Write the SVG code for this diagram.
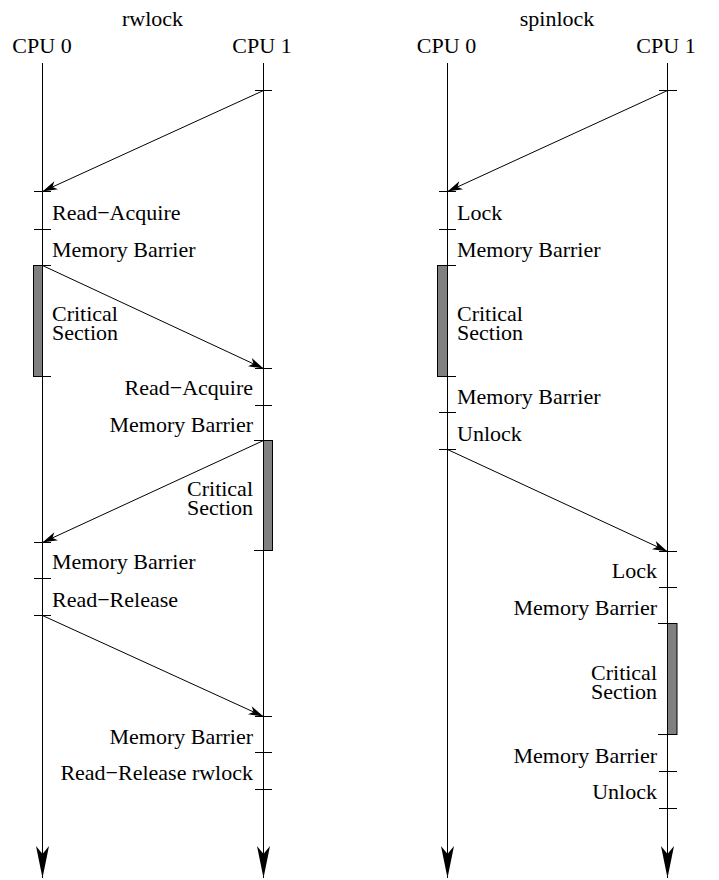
<svg xmlns="http://www.w3.org/2000/svg" width="719" height="880" viewBox="0 0 719 880" font-family="'Liberation Serif', 'Times New Roman', Tinos, 'DejaVu Serif', serif">
  <style>
    text { font-family: 'Liberation Serif', 'Times New Roman', Tinos, 'DejaVu Serif', serif; font-size: 22px; fill: #000; }
    .mid { text-anchor: middle; }
    .end { text-anchor: end; }
    .life { stroke: #000; stroke-width: 1; fill: none; }
    .tick { stroke: #000; stroke-width: 1; fill: none; }
    .cs { fill: #808080; stroke: #000; stroke-width: 1; }
    .msg { stroke: #000; stroke-width: 1; fill: none; marker-end: url(#msgHead); }
  </style>
  <defs>
    <marker id="msgHead" markerUnits="userSpaceOnUse" markerWidth="20" markerHeight="12" viewBox="-16 -6 18 12" refX="0" refY="0" orient="auto">
      <path d="M0,0 L-15,-4.5 L-11,0 L-15,4.5 Z" fill="#000"/>
    </marker>
    <marker id="timeHead" markerUnits="userSpaceOnUse" markerWidth="36" markerHeight="16" viewBox="-34 -8 36 16" refX="0" refY="0" orient="auto">
      <path d="M0,0 L-32,-6.5 L-24,0 L-32,6.5 Z" fill="#000"/>
    </marker>
  </defs>

  <!-- titles -->
  <g id="titles">
    <text class="mid" x="152.5" y="26">rwlock</text>
    <text class="mid" x="557" y="26">spinlock</text>
  </g>

  <!-- rwlock: CPU 0 timeline -->
  <g id="rw-cpu0">
    <text class="mid" x="42" y="53">CPU 0</text>
    <line class="life" x1="42.5" y1="63" x2="42.5" y2="878" marker-end="url(#timeHead)"/>
    <path class="tick" d="M34,191.5H51 M34,229.5H51 M34,542.5H51 M34,578.5H51 M34,615.5H51"/>
    <rect class="cs" x="33.5" y="265.5" width="9" height="111"/>
    <path class="tick" d="M33.5,265.5H51 M33.5,376.5H51"/>
  </g>

  <!-- rwlock: CPU 1 timeline -->
  <g id="rw-cpu1">
    <text class="mid" x="262" y="53">CPU 1</text>
    <line class="life" x1="263.5" y1="63" x2="263.5" y2="878" marker-end="url(#timeHead)"/>
    <path class="tick" d="M255,90.5H272 M255,368.5H272 M255,405.5H272 M255,716.5H272 M255,752.5H272 M255,789.5H272"/>
    <rect class="cs" x="263.5" y="440.5" width="9" height="110"/>
    <path class="tick" d="M254,440.5H272.5 M254,550.5H272.5"/>
  </g>

  <!-- rwlock: CPU 0 step labels -->
  <g id="rw-cpu0-labels">
    <text x="52" y="220">Read−Acquire</text>
    <text x="52" y="257">Memory Barrier</text>
    <text x="52" y="321">Critical</text>
    <text x="52" y="339.5">Section</text>
    <text x="52" y="569">Memory Barrier</text>
    <text x="52" y="607">Read−Release</text>
  </g>

  <!-- rwlock: CPU 1 step labels -->
  <g id="rw-cpu1-labels">
    <text class="end" x="253" y="395">Read−Acquire</text>
    <text class="end" x="253" y="432">Memory Barrier</text>
    <text class="end" x="253" y="496">Critical</text>
    <text class="end" x="253" y="515">Section</text>
    <text class="end" x="253" y="744">Memory Barrier</text>
    <text class="end" x="253" y="780">Read−Release rwlock</text>
  </g>

  <!-- spinlock: CPU 0 timeline -->
  <g id="sp-cpu0">
    <text class="mid" x="446.5" y="53">CPU 0</text>
    <line class="life" x1="447.5" y1="63" x2="447.5" y2="878" marker-end="url(#timeHead)"/>
    <path class="tick" d="M439,191.5H456 M439,229.5H456 M439,412.5H456 M439,449.5H456"/>
    <rect class="cs" x="437.5" y="265.5" width="10" height="111"/>
    <path class="tick" d="M437.5,265.5H456 M437.5,376.5H456"/>
  </g>

  <!-- spinlock: CPU 1 timeline -->
  <g id="sp-cpu1">
    <text class="mid" x="666" y="53">CPU 1</text>
    <line class="life" x1="667.5" y1="63" x2="667.5" y2="878" marker-end="url(#timeHead)"/>
    <path class="tick" d="M659,90.5H677 M659,551.5H677 M659,587.5H677 M659,771.5H677 M659,808.5H677"/>
    <rect class="cs" x="667.5" y="623.5" width="9.5" height="111"/>
    <path class="tick" d="M658,623.5H677 M658,734.5H677"/>
  </g>

  <!-- spinlock: CPU 0 step labels -->
  <g id="sp-cpu0-labels">
    <text x="457" y="220">Lock</text>
    <text x="457" y="257">Memory Barrier</text>
    <text x="457" y="321">Critical</text>
    <text x="457" y="339.5">Section</text>
    <text x="457" y="404">Memory Barrier</text>
    <text x="457" y="441">Unlock</text>
  </g>

  <!-- spinlock: CPU 1 step labels -->
  <g id="sp-cpu1-labels">
    <text class="end" x="657" y="578">Lock</text>
    <text class="end" x="657" y="615">Memory Barrier</text>
    <text class="end" x="657" y="680">Critical</text>
    <text class="end" x="657" y="699">Section</text>
    <text class="end" x="657" y="763">Memory Barrier</text>
    <text class="end" x="657" y="799">Unlock</text>
  </g>

  <!-- messages between CPUs -->
  <g id="connectors">
    <line class="msg" x1="263.5" y1="90.5" x2="42.5" y2="191.5"/>
    <line class="msg" x1="42.5" y1="265.5" x2="263.5" y2="368.5"/>
    <line class="msg" x1="263.5" y1="440.5" x2="42.5" y2="542.5"/>
    <line class="msg" x1="42.5" y1="615.5" x2="263.5" y2="716.5"/>
    <line class="msg" x1="667.5" y1="90.5" x2="447.5" y2="191.5"/>
    <line class="msg" x1="447.5" y1="449.5" x2="667.5" y2="551.5"/>
  </g>
</svg>
